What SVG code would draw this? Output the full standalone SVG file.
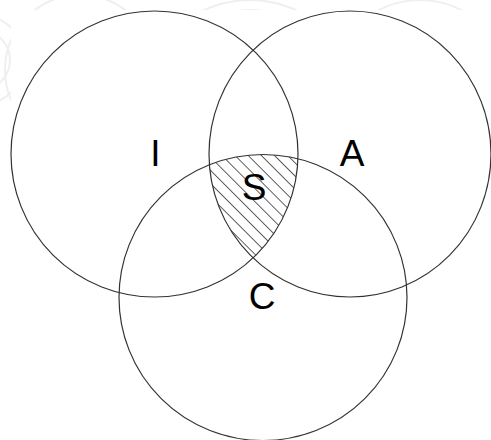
<svg xmlns="http://www.w3.org/2000/svg" width="491" height="440" viewBox="0 0 491 440">
  <style>
    .ring { fill: none; stroke: #333; stroke-width: 1.2; }
    .lbl { font-family: "Liberation Sans", Arial, sans-serif; font-size: 37px; fill: #000; text-anchor: middle; }
    .wm { fill: none; stroke: #efefef; stroke-width: 2; }
  </style>
  <defs>
    <pattern id="hatch" patternUnits="userSpaceOnUse" width="9.3" height="9.3" patternTransform="rotate(-45)">
      <line x1="0" y1="-1" x2="0" y2="10.3" stroke="#1a1a1a" stroke-width="1.4"/>
    </pattern>
    <clipPath id="clipI"><ellipse cx="154.5" cy="154" rx="143.5" ry="143"/></clipPath>
    <clipPath id="clipA"><ellipse cx="350" cy="154" rx="141" ry="143"/></clipPath>
    <clipPath id="clipC"><ellipse cx="263" cy="297.5" rx="144" ry="143"/></clipPath>
    <clipPath id="wmClip">
      <rect x="0" y="0" width="491" height="10"/>
      <rect x="0" y="0" width="11" height="440"/>
    </clipPath>
  </defs>
  <rect width="491" height="440" fill="#fff"/>
  <g id="watermark" clip-path="url(#wmClip)">
    <circle class="wm" cx="-20" cy="60" r="45"/>
    <circle class="wm" cx="-20" cy="60" r="30"/>
    <circle class="wm" cx="80" cy="70" r="75"/>
    <circle class="wm" cx="250" cy="110" r="110"/>
    <circle class="wm" cx="250" cy="110" r="100"/>
    <circle class="wm" cx="420" cy="90" r="90"/>
    <circle class="wm" cx="560" cy="110" r="110"/>
  </g>
  <g id="hatched-region" clip-path="url(#clipI)">
    <g clip-path="url(#clipA)">
      <g clip-path="url(#clipC)">
        <rect x="190" y="140" width="130" height="140" fill="url(#hatch)"/>
      </g>
    </g>
  </g>
  <g id="connectors"></g>
  <g id="node-I">
    <ellipse class="ring" cx="154.5" cy="154" rx="143.5" ry="143"/>
    <text class="lbl" x="155.5" y="166">I</text>
  </g>
  <g id="node-A">
    <ellipse class="ring" cx="350" cy="154" rx="141" ry="143"/>
    <text class="lbl" x="352" y="166">A</text>
  </g>
  <g id="node-C">
    <ellipse class="ring" cx="263" cy="297.5" rx="144" ry="143"/>
    <text class="lbl" x="262" y="309">C</text>
  </g>
  <g id="node-S">
    <text class="lbl" x="254" y="200">S</text>
  </g>
</svg>
